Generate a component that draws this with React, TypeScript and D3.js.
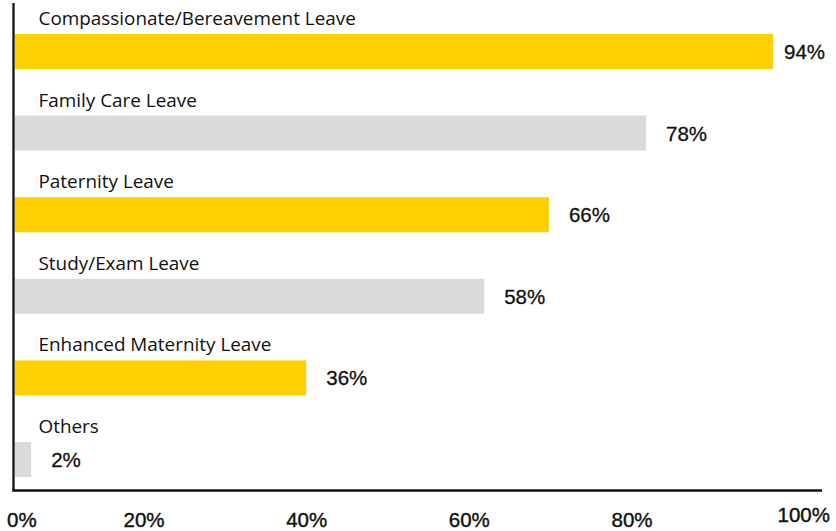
import React from "react";
import * as d3 from "d3";

const categories = [
  "Compassionate/Bereavement Leave",
  "Family Care Leave",
  "Paternity Leave",
  "Study/Exam Leave",
  "Enhanced Maternity Leave",
  "Others",
];
const values = [94, 78, 66, 58, 36, 2];
const barColors = ["#FFCF00", "#D9DADA", "#FFCF00", "#D9DADA", "#FFCF00", "#D9DADA"];
const tickValues = [0, 20, 40, 60, 80, 100];
const tickLabels = ["0%", "20%", "40%", "60%", "80%", "100%"];

const W = 836;
const H = 531;

export default function App() {
  const x = d3.scaleLinear().domain([0, 100]).range([15, 824]);
  const y = d3
    .scaleBand<string>()
    .domain(categories)
    .range([34, 477])
    .paddingInner(0.571)
    .paddingOuter(0);
  const tickX = d3.scaleLinear().domain([20, 80]).range([144, 632]);
  const labelFont = "'Open Sans', 'Noto Sans', sans-serif";
  const numFont = "'Liberation Sans', Arial, Helvetica, sans-serif";

  return (
    <svg
      width={W}
      height={H}
      style={{ position: "absolute", left: 0, top: 0, display: "block", background: "#fff" }}
    >
      {categories.map((c, i) => {
        const y0 = y(c) as number;
        const bh = y.bandwidth();
        const xe = Math.min(x(values[i]), 773);
        const lx = Math.min(xe + 20, 827 - 43);
        return (
          <g key={c}>
            <rect x={x(0)} y={y0} width={xe - x(0)} height={bh} fill={barColors[i]} />
            <text x={38.5} y={y0 - 9} fontFamily={labelFont} fontSize={18.9} fill="#111">
              {c}
            </text>
            <text
              x={lx}
              y={y0 + bh / 2 + 7.5}
              fontFamily={numFont}
              fontSize={20.5}
              fill="#111"
              stroke="#111"
              strokeWidth={0.3}
            >
              {values[i]}%
            </text>
          </g>
        );
      })}
      <line x1={13.5} x2={13.5} y1={3} y2={491.5} stroke="#111" strokeWidth={2.3} />
      <line x1={12.5} x2={822} y1={490.5} y2={490.5} stroke="#111" strokeWidth={2.5} />
      {tickValues.map((t, i) => {
        const first = i === 0;
        const last = i === tickValues.length - 1;
        const tx = first ? 7 : last ? 830 : tickX(t);
        return (
          <text
            key={t}
            x={tx}
            y={last ? 522 : 527}
            textAnchor={first ? "start" : last ? "end" : "middle"}
            fontFamily={numFont}
            fontSize={20.5}
            fill="#111"
            stroke="#111"
            strokeWidth={0.4}
          >
            {tickLabels[i]}
          </text>
        );
      })}
    </svg>
  );
}
